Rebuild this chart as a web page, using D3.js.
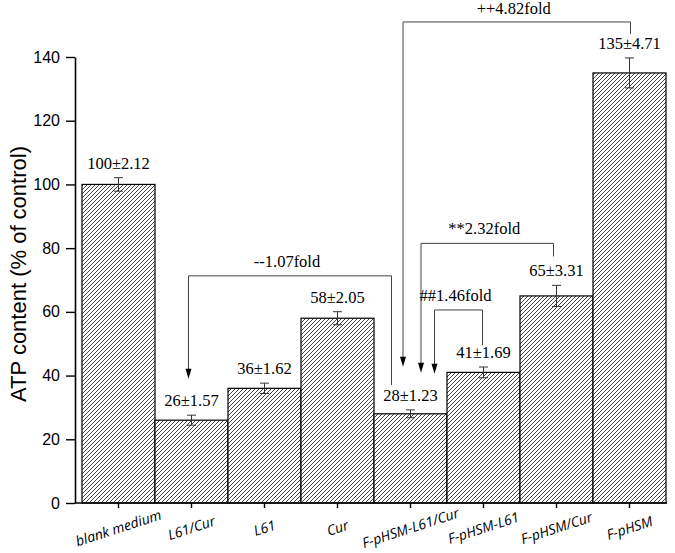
<!DOCTYPE html>
<html>
<head>
<meta charset="utf-8">
<script src="https://cdn.jsdelivr.net/npm/d3@7"></script>
<style>
    body { margin: 0; background: #fff; }
    svg { display: block; }
</style>
</head>
<body>
<svg class="chart"></svg>
<script>
// values
var categories = ["blank medium", "L61/Cur", "L61", "Cur", "F-pHSM-L61/Cur", "F-pHSM-L61", "F-pHSM/Cur", "F-pHSM"];
var means = [100, 26, 36, 58, 28, 41, 65, 135];
var errors = [2.12, 1.57, 1.62, 2.05, 1.23, 1.69, 3.31, 4.71];
var yTicks = [0, 20, 40, 60, 80, 100, 120, 140];

// comparison brackets: label, bar with arrow, bar it is compared to
var foldLabels = ["--1.07fold", "++4.82fold", "**2.32fold", "##1.46fold"];
var foldFrom = ["L61/Cur", "F-pHSM-L61/Cur", "F-pHSM-L61/Cur", "F-pHSM-L61/Cur"];
var foldTo = ["F-pHSM-L61/Cur", "F-pHSM", "F-pHSM/Cur", "F-pHSM-L61"];

var chartWidth = 675, chartHeight = 553;
var serif = "'Liberation Serif', 'Times New Roman', serif";
var sans = "'Liberation Sans', Arial, sans-serif";

var chart = d3.select(".chart")
    .attr("width", chartWidth)
    .attr("height", chartHeight);

var x = d3.scaleBand().domain(categories).range([82, 666]).padding(0);
var y = d3.scaleLinear().domain([0, 140]).range([503, 57]);

// hatch
var pat = chart.append("defs").append("pattern")
    .attr("id", "hatch")
    .attr("patternUnits", "userSpaceOnUse")
    .attr("width", 4).attr("height", 4);
pat.append("rect").attr("width", 4).attr("height", 4).attr("fill", "#fff");
pat.append("path")
    .attr("d", "M-1,1 L1,-1 M0,4 L4,0 M3,5 L5,3")
    .attr("stroke", "#222")
    .attr("stroke-width", 0.85);

var rows = categories.map(function (c, i) {
    return {name: c, mean: means[i], err: errors[i]};
});

// bars
chart.selectAll("rect.bar")
    .data(rows)
    .enter().append("rect")
    .attr("class", "bar")
    .attr("x", function (d) { return x(d.name); })
    .attr("y", function (d) { return y(d.mean); })
    .attr("width", x.bandwidth())
    .attr("height", function (d) { return y(0) - y(d.mean); })
    .attr("fill", "url(#hatch)")
    .attr("stroke", "#000")
    .attr("stroke-width", 1.2);

// error bars
var eb = chart.selectAll("g.err")
    .data(rows)
    .enter().append("g")
    .attr("class", "err")
    .attr("stroke", "#333")
    .attr("stroke-width", 1);
eb.append("line")
    .attr("x1", function (d) { return x(d.name) + x.bandwidth() / 2; })
    .attr("x2", function (d) { return x(d.name) + x.bandwidth() / 2; })
    .attr("y1", function (d) { return y(d.mean - d.err); })
    .attr("y2", function (d) { return y(d.mean + d.err); });
eb.selectAll("line.cap")
    .data(function (d) { return [{d: d, v: d.mean - d.err}, {d: d, v: d.mean + d.err}]; })
    .enter().append("line")
    .attr("class", "cap")
    .attr("x1", function (c) { return x(c.d.name) + x.bandwidth() / 2 - 4.5; })
    .attr("x2", function (c) { return x(c.d.name) + x.bandwidth() / 2 + 4.5; })
    .attr("y1", function (c) { return y(c.v); })
    .attr("y2", function (c) { return y(c.v); });

// value labels
chart.selectAll("text.val")
    .data(rows)
    .enter().append("text")
    .attr("class", "val")
    .attr("x", function (d) { return x(d.name) + x.bandwidth() / 2; })
    .attr("y", function (d) { return y(d.mean + d.err) - 9; })
    .attr("text-anchor", "middle")
    .style("font-family", serif)
    .style("font-size", "16.5px")
    .text(function (d) { return d.mean + "\u00b1" + d.err.toFixed(2); });

// y axis
var yAxis = chart.append("g")
    .attr("transform", "translate(75,0)")
    .call(d3.axisLeft(y).tickValues(yTicks).tickSize(9).tickSizeOuter(0).tickPadding(6));
yAxis.select(".domain").attr("stroke-width", 1.6);
yAxis.selectAll(".tick line").attr("stroke-width", 1.4);
yAxis.selectAll("text")
    .style("font-family", sans)
    .style("font-size", "16px")
    .attr("fill", "#000");

// x axis
var xAxis = chart.append("g")
    .attr("transform", "translate(0," + y(0) + ")")
    .call(d3.axisBottom(x).tickSize(5).tickSizeOuter(0).tickFormat(""));
xAxis.select(".domain").remove();
xAxis.selectAll(".tick line").attr("stroke-width", 1.4);
xAxis.append("line")
    .attr("x1", 75).attr("x2", 667)
    .attr("stroke", "#000").attr("stroke-width", 1.6);

chart.selectAll("text.cat")
    .data(categories)
    .enter().append("text")
    .attr("class", "cat")
    .attr("transform", function (d) {
        return "translate(" + (x(d) + x.bandwidth() / 2) + ",528) rotate(-18)";
    })
    .attr("text-anchor", "middle")
    .attr("dy", "0.35em")
    .style("font-family", "'Open Sans', sans-serif")
    .style("font-style", "italic")
    .style("font-size", "14px")
    .text(function (d) { return d; });

// y title
chart.append("text")
    .attr("transform", "translate(26,274) rotate(-90)")
    .attr("text-anchor", "middle")
    .style("font-family", sans)
    .style("font-size", "22px")
    .text("ATP content (% of control)");

// brackets, heights in data units
var foldLevel = [71.3, 151, 81.5, 60.6];
var arrowTip = [39, 42.8, 40.9, 40.6];
var toEnd = [37, 147.3, 77.4, 49.5];
var fromShift = [-3, -7.5, 10.5, 24];
var toShift = [-19, 1, -3, -1];

var brackets = foldLabels.map(function (t, i) {
    return {
        text: t,
        x1: x(foldFrom[i]) + x.bandwidth() / 2 + fromShift[i],
        x2: x(foldTo[i]) + x.bandwidth() / 2 + toShift[i],
        top: y(foldLevel[i]),
        tip: y(arrowTip[i]),
        end: y(toEnd[i])
    };
});

var br = chart.selectAll("g.bracket")
    .data(brackets)
    .enter().append("g")
    .attr("class", "bracket");

br.append("path")
    .attr("d", function (d) {
        return "M" + d.x1 + "," + (d.tip - 9) + " L" + d.x1 + "," + d.top +
            " L" + d.x2 + "," + d.top + " L" + d.x2 + "," + d.end;
    })
    .attr("fill", "none")
    .attr("stroke", "#444")
    .attr("stroke-width", 1);

br.append("path")
    .attr("d", function (d) {
        return "M" + (d.x1 - 3) + "," + (d.tip - 10) + " L" + (d.x1 + 3) + "," + (d.tip - 10) +
            " L" + d.x1 + "," + d.tip + " Z";
    })
    .attr("fill", "#000");

br.append("text")
    .attr("x", function (d) { return (d.x1 + d.x2) / 2 - 3; })
    .attr("y", function (d) { return Math.max(d.top - 9, 14); })
    .attr("text-anchor", "middle")
    .style("font-family", serif)
    .style("font-size", "16.5px")
    .text(function (d) { return d.text; });
</script>
</body>
</html>
